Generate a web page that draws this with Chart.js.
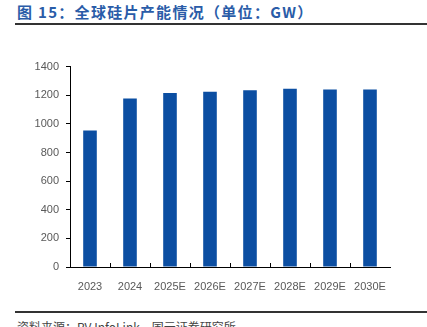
<!DOCTYPE html>
<html>
<head>
<meta charset="utf-8">
<script src="https://cdn.jsdelivr.net/npm/chart.js@4"></script>
<style>
  html, body { margin: 0; padding: 0; background: #fff; }
  body { width: 427px; height: 327px; position: relative; overflow: hidden; }
  .title {
    position: absolute; left: 17px; top: 2px;
    font: bold 15px "Noto Sans CJK SC", sans-serif; letter-spacing: 1.3px;
    color: #2A5CA8; line-height: 19px; white-space: nowrap;
  }
  .rule { position: absolute; left: 15px; right: 0; height: 2px; background: #333; }
  .source {
    position: absolute; left: 17px; top: 318px;
    font: 12px "Noto Sans CJK SC", sans-serif; color: #444; white-space: nowrap;
  }
  #wrap { position: absolute; left: 0; top: 53px; width: 427px; height: 240px; }
</style>
</head>
<body>
<div class="title">图 15：全球硅片产能情况（单位：GW）</div>
<div class="rule" style="top:23px"></div>
<div id="wrap"><canvas id="chart"></canvas></div>
<div class="rule" style="top:311px"></div>
<div class="source">资料来源：PV InfoLink，国元证券研究所</div>
<script>
// ── Data ────────────────────────────────────────────────
const YEARS = ['2023', '2024', '2025E', '2026E', '2027E', '2028E', '2029E', '2030E'];
const CAPACITY = [953, 1177, 1215, 1225, 1235, 1246, 1240, 1240];
const Y_MAX = 1400;
const Y_STEP = 200;

const BAR_COLOR = '#0B4EA2';

// inner tick marks on the x axis, between categories
const xTicks = {
  id: 'xTicks',
  afterDraw(chart) {
    const x = chart.scales.x;
    const ctx = chart.ctx;
    const n = YEARS.length;
    const w = (x.right - x.left) / n;
    ctx.save();
    ctx.strokeStyle = '#000';
    ctx.lineWidth = 1;
    ctx.beginPath();
    for (let i = 1; i < n; i++) {
      const px = Math.round(x.left + i * w) + 0.5;
      ctx.moveTo(px, x.top);
      ctx.lineTo(px, x.top - 4);
    }
    ctx.stroke();
    ctx.restore();
  },
};

new Chart(document.getElementById('chart'), {
  type: 'bar',
  data: {
    labels: YEARS,
    datasets: [{
      data: CAPACITY,
      backgroundColor: BAR_COLOR,
      borderWidth: 0,
      barPercentage: 0.34,
      categoryPercentage: 1,
    }],
  },
  options: {
    responsive: true,
    maintainAspectRatio: false,
    animation: false,
    layout: { padding: { top: 7, right: 37, bottom: 0, left: 0 } },
    plugins: { legend: { display: false }, tooltip: { enabled: false } },
    scales: {
      x: {
        grid: { display: false },
        border: { display: true, color: '#000', width: 1 },
        ticks: { color: '#595959', font: { family: 'Liberation Sans', size: 11 }, padding: 5, maxRotation: 0 },
        afterFit(s) { s.height = 26; },
      },
      y: {
        min: 0,
        max: Y_MAX,
        grid: { drawOnChartArea: false, drawTicks: true, tickLength: 4, color: '#000' },
        border: { display: true, color: '#000', width: 1 },
        ticks: {
          stepSize: Y_STEP, color: '#595959', font: { family: 'Liberation Sans', size: 11 }, padding: 7,
          callback: (v) => String(v),
        },
        afterFit(s) { s.width = 70; },
      },
    },
  },
  plugins: [xTicks],
});
</script>
</body>
</html>
